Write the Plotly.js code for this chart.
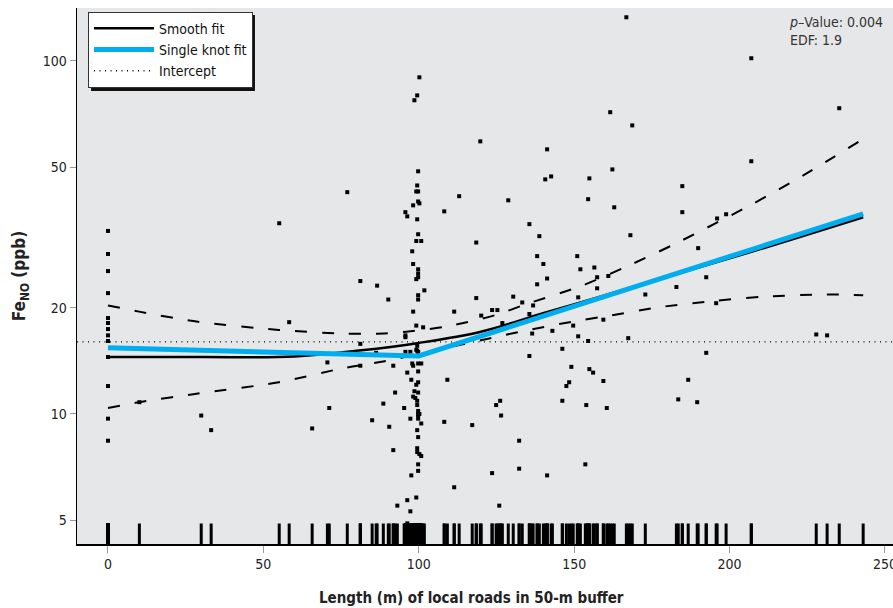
<!DOCTYPE html>
<html>
<head>
<meta charset="utf-8">
<script src="https://cdn.plot.ly/plotly-3.0.1.min.js"></script>
<style>html,body{margin:0;padding:0;background:#fff;}#chart{width:893px;height:608px;}</style>
</head>
<body>
<div id="chart"></div>
<script>
// ---- Data ----
// Scatter observations: length of local roads (m) and FeNO (ppb)
const pointX = [
  0,0,0,0,0,0,0,0,0,0,0,0,0,
  10.1,30.0,33.2,55.1,58.3,65.7,70.6,71.2,77.0,81.2,81.2,81.2,85.0,86.6,86.3,88.6,
  90.2,90.5,91.8,91.8,92.4,93.1,95.3,95.7,95.7,95.7,95.7,96.3,96.3,96.3,96.3,
  97.3,97.3,97.3,97.6,97.6,97.9,97.9,98.2,98.2,98.2,98.2,98.2,98.6,98.6,98.9,
  99.2,99.2,99.2,99.2,99.2,99.2,99.2,
  99.5,99.5,99.5,99.5,99.5,99.5,99.5,99.5,99.5,99.5,
  99.8,99.8,99.8,99.8,99.8,99.8,99.8,99.8,99.8,99.8,99.8,99.8,99.8,99.8,99.8,99.8,99.8,99.8,99.8,99.8,99.8,
  100.2,100.2,100.2,100.2,100.8,100.8,100.8,100.8,101.4,101.8,
  108.2,108.2,109.2,111.4,111.4,113.0,117.2,118.5,118.5,119.8,120.1,123.6,123.6,124.9,125.3,
  125.9,126.2,126.5,126.9,128.8,130.4,132.3,132.3,133.3,135.6,135.6,135.6,136.5,136.8,
  138.1,138.1,138.8,140.1,140.7,141.3,141.3,141.3,142.6,143.0,146.2,146.2,147.5,148.4,
  149.1,149.7,151.0,151.3,151.3,152.0,153.6,153.9,154.5,154.5,154.9,154.9,156.1,156.5,
  157.4,157.4,159.4,159.4,160.5,161.0,161.6,162.3,162.9,166.8,167.4,168.1,168.7,172.9,
  182.9,183.5,184.8,184.8,186.7,189.6,189.9,192.5,192.5,195.7,196.0,198.9,207.0,207.0,
  227.9,231.4,235.3,243.0
];
const pointY = [
  33.0,28.4,25.4,22.0,18.7,18.1,17.4,16.7,16.1,14.5,12.0,9.7,8.4,
  10.8,9.9,9.0,34.7,18.2,9.1,14.0,10.4,42.5,23.8,15.8,13.7,9.6,23.1,14.9,10.7,
  21.1,9.2,13.7,7.9,11.5,5.5,10.4,37.3,16.7,16.5,15.0,36.3,13.1,5.7,4.9,
  15.0,9.7,5.3,12.5,6.7,28.9,13.9,39.0,26.6,19.5,13.7,11.2,77.4,11.6,11.1,
  42.7,30.9,24.1,17.8,15.2,12.1,5.8,
  79.9,44.4,35.6,15.6,15.1,10.9,10.6,9.0,8.0,7.8,
  48.7,42.7,40.0,32.3,25.7,25.0,24.4,21.7,21.1,15.0,13.9,13.2,12.3,11.5,10.2,10.0,9.9,9.7,8.6,7.2,6.9,
  89.9,39.5,10.0,7.7,30.9,13.9,9.4,7.6,17.6,22.4,
  37.5,9.5,12.5,19.5,6.2,41.4,9.3,30.6,21.3,59.2,19.0,19.7,6.8,10.6,19.7,
  5.5,10.9,9.9,18.1,40.3,21.5,8.4,7.0,20.7,34.5,19.2,14.6,16.9,20.3,
  28.0,23.3,31.9,26.6,46.2,56.2,24.2,6.7,47.1,17.2,15.3,10.9,12.0,12.3,
  13.6,17.8,28.0,21.4,16.6,25.7,7.2,10.6,40.6,16.1,46.5,13.4,13.1,26.0,
  24.4,22.7,18.5,12.4,10.4,24.6,71.6,49.3,38.5,133.0,16.4,32.1,65.7,21.8,
  22.9,11.0,44.2,37.3,12.5,10.8,29.5,24.4,14.9,20.6,35.8,36.8,101.8,52.0,
  16.8,16.7,73.5,160.0
];

// Smooth (GAM) fit and its confidence band
const smoothX = [0, 30, 60, 80, 100, 120, 140, 160, 180, 200, 220, 243];
const smoothY = [14.5, 14.5, 14.55, 15.1, 15.9, 17.1, 19.3, 21.7, 24.5, 27.6, 31.2, 36.1];
const upperX = [0, 10, 28, 55, 76, 89, 96, 109, 125, 134, 152, 167, 182, 208, 224, 243];
const upperY = [20.3, 19.5, 18.3, 17.3, 16.9, 16.9, 17.1, 17.7, 19.1, 20.4, 23.0, 26.2, 30.2, 39.6, 47.6, 60.1];
const lowerX = [0, 10, 28, 55, 76, 89, 100, 123, 134, 150, 160, 178, 195, 211, 231, 243];
const lowerY = [10.4, 10.8, 11.4, 12.3, 13.5, 14.1, 14.8, 16.4, 17.2, 18.3, 18.9, 20.1, 20.9, 21.5, 21.8, 21.7];

// Single knot (piecewise linear) fit
const knotX = [0, 100, 243];
const knotY = [15.4, 14.6, 36.9];

// Intercept level
const intercept = 16.0;

// Axis ticks
const xTicks = [0, 50, 100, 150, 200, 250];
const yTicks = [5, 10, 20, 50, 100];
const yTickText = ['5', '10', '20', '50', '100'];

// Legend labels / stats text
const legendNames = ['Smooth fit', 'Single knot fit', 'Intercept'];
const pValue = '0.004';
const edf = '1.9';

// ---- Styling / layout ----
const FONT = 'DejaVu Sans Condensed, Liberation Sans Narrow, Arial Narrow, sans-serif';
const xRange = [-9.97, 252.6];
const yRange = [0.6317, 2.1501];
const rugLevel = 0.016;

const traces = [
  {x: pointX, y: pointY, type: 'scatter', mode: 'markers', showlegend: false,
   marker: {symbol: 'square', size: 4, color: '#000'}, hoverinfo: 'x+y'},
  {x: pointX, y: pointX.map(() => rugLevel), yaxis: 'y2', type: 'scatter', mode: 'markers', showlegend: false,
   marker: {symbol: 'line-ns', size: 17, line: {width: 3, color: '#000'}}, hoverinfo: 'x'},
  {x: upperX, y: upperY, type: 'scatter', mode: 'lines', showlegend: false,
   line: {color: '#000', width: 2, dash: '12px,15px', shape: 'spline', smoothing: 0.8}},
  {x: lowerX, y: lowerY, type: 'scatter', mode: 'lines', showlegend: false,
   line: {color: '#000', width: 2, dash: '12px,15px', shape: 'spline', smoothing: 0.8}},
  {x: xRange, y: [intercept, intercept], type: 'scatter', mode: 'lines', name: legendNames[2], legendrank: 3,
   line: {color: '#000', width: 1.3, dash: '1px,4.5px'}},
  {x: smoothX, y: smoothY, type: 'scatter', mode: 'lines', name: legendNames[0], legendrank: 1,
   line: {color: '#000', width: 2.5, shape: 'spline', smoothing: 1}},
  {x: knotX, y: knotY, type: 'scatter', mode: 'lines', name: legendNames[1], legendrank: 2,
   line: {color: '#00AEEF', width: 5}}
];

const layout = {
  width: 893, height: 608,
  margin: {l: 77, r: 0, t: 8, b: 64},
  paper_bgcolor: '#fff', plot_bgcolor: '#E6E7E8',
  font: {family: FONT, size: 14, color: '#222'},
  showlegend: true,
  legend: {x: 0.0135, y: 0.993, xanchor: 'left', yanchor: 'top',
           bgcolor: '#fff', bordercolor: '#333', borderwidth: 1,
           font: {family: FONT, size: 14, color: '#111'}, itemwidth: 60, tracegroupgap: 0},
  xaxis: {range: xRange, tickvals: xTicks, ticks: 'outside', ticklen: 7, tickcolor: '#999', tickwidth: 1,
          showline: true, linecolor: '#000', linewidth: 1.5, showgrid: false, zeroline: false,
          ticklabeloverflow: 'allow',
          tickfont: {family: FONT, size: 14, color: '#222'}},
  yaxis: {type: 'log', range: yRange, tickvals: yTicks, ticktext: yTickText, ticks: 'outside', ticklen: 6,
          tickcolor: '#999', tickwidth: 1, showline: true, linecolor: '#000', linewidth: 1.5,
          showgrid: false, zeroline: false, tickfont: {family: FONT, size: 14, color: '#222'},
          title: {text: '<b>Fe<sub>NO</sub> (ppb)</b>', font: {family: FONT, size: 17, color: '#222'}, standoff: 12}},
  yaxis2: {overlaying: 'y', range: [0, 1], visible: false, fixedrange: true},
  shapes: [
    // drop shadow behind the legend box
    {type: 'rect', xref: 'paper', yref: 'paper', layer: 'above',
     x0: 0.0172, x1: 0.2181, y0: 0.8451, y1: 0.9869,
     fillcolor: '#111', line: {width: 0}}
  ],
  annotations: [
    {xref: 'paper', yref: 'paper', x: 0.484, y: -0.1007, xanchor: 'center', yanchor: 'middle', showarrow: false,
     text: '<b>Length (m) of local roads in 50-m buffer</b>', font: {family: FONT, size: 15, color: '#222'}},
    {xref: 'paper', yref: 'paper', x: 0.870, y: 0.993, xanchor: 'left', yanchor: 'top', showarrow: false, align: 'left',
     text: '<i>p</i>–Value: ' + pValue + '<br>EDF: ' + edf, font: {family: FONT, size: 14, color: '#333'}}
  ]
};

Plotly.newPlot('chart', traces, layout, {displayModeBar: false, staticPlot: true});
</script>
</body>
</html>
